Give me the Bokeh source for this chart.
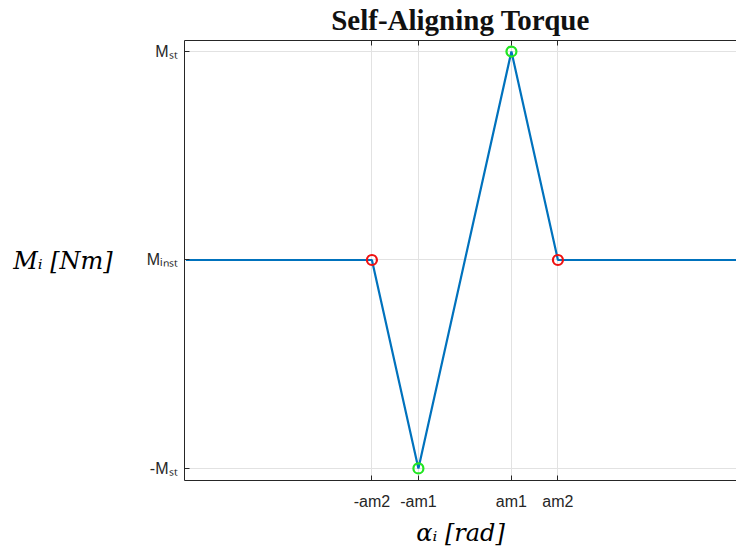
from bokeh.plotting import figure
from bokeh.models import Range1d, FixedTicker, LinearAxis
from bokeh.embed import file_html
from bokeh.resources import INLINE

# ---- data ----
alpha_pts = [-6.0, -2.0, -1.0, 1.0, 2.0, 6.0]      # alpha_i (am1 = 1, am2 = 2)
m_pts = [0.0, 0.0, -1.0, 1.0, 0.0, 0.0]            # M_i (M_st = 1, M_inst = 0)
red_x = [-2.0, 2.0]
red_y = [0.0, 0.0]
green_x = [-1.0, 1.0]
green_y = [-1.0, 1.0]
x_ticks = [-2, -1, 1, 2]
x_tick_labels = ["-am2", "-am1", "am1", "am2"]
y_ticks = [1, 0, -1]
y_tick_labels = ["M\u209b\u209c", "M\u1d62\u2099\u209b\u209c", "-M\u209b\u209c"]
title_text = "Self-Aligning Torque"
x_title = "\u03b1\u1d62 [rad]"
y_title = "M\u1d62 [Nm]"

# ---- layout ----
W, H = 736, 553
X0, X1 = -6.03, 5.84
Y0, Y1 = -1.058, 1.053
AX = "#262626"

p = figure(width=W, height=H, x_range=Range1d(X0, X1), y_range=Range1d(Y0, Y1),
           output_backend="svg", toolbar_location=None, title=None,
           min_border_left=184, min_border_right=0,
           min_border_top=40, min_border_bottom=73)
p.outline_line_color = None
p.background_fill_color = "white"
p.border_fill_color = "white"

xt = FixedTicker(ticks=x_ticks)
yt = FixedTicker(ticks=y_ticks)

xa = p.xaxis[0]
xa.ticker = xt
xa.major_label_overrides = {t: s for t, s in zip(x_ticks, x_tick_labels)}
xa.major_label_text_font = "Liberation Sans"
xa.major_label_text_font_size = "16px"
xa.major_label_text_color = AX
xa.major_label_standoff = 12
xa.major_tick_in = 5
xa.major_tick_out = 0
xa.minor_tick_line_color = None
xa.axis_line_color = AX
xa.major_tick_line_color = AX
xa.axis_label = x_title
xa.axis_label_text_font = "DejaVu Serif"
xa.axis_label_text_font_style = "italic"
xa.axis_label_text_font_size = "24px"
xa.axis_label_text_color = "black"
xa.axis_label_standoff = 6

ya = p.yaxis[0]
ya.ticker = yt
ya.major_label_overrides = {t: s for t, s in zip(y_ticks, y_tick_labels)}
ya.major_label_text_font = "Liberation Sans"
ya.major_label_text_font_size = "16px"
ya.major_label_text_color = AX
ya.major_label_standoff = 7
ya.major_tick_in = 5
ya.major_tick_out = 0
ya.minor_tick_line_color = None
ya.axis_line_color = AX
ya.major_tick_line_color = AX
ya.axis_label = y_title
ya.axis_label_orientation = "horizontal"
ya.axis_label_text_font = "DejaVu Serif"
ya.axis_label_text_font_style = "italic"
ya.axis_label_text_font_size = "24px"
ya.axis_label_text_color = "black"
ya.axis_label_standoff = 31

# top box edge with inward ticks; carries the chart title as its label
top = LinearAxis(ticker=FixedTicker(ticks=x_ticks))
top.major_label_overrides = {t: "" for t in x_ticks}
top.major_label_text_font_size = "1px"
top.major_label_standoff = 0
top.major_tick_in = 5
top.major_tick_out = 0
top.minor_tick_line_color = None
top.axis_line_color = AX
top.major_tick_line_color = AX
top.axis_label = title_text
top.axis_label_text_font = "Liberation Serif"
top.axis_label_text_font_style = "bold"
top.axis_label_text_font_size = "29px"
top.axis_label_text_color = "#111111"
top.axis_label_standoff = 5
p.add_layout(top, "above")

p.xgrid.ticker = xt
p.ygrid.ticker = yt
p.xgrid.grid_line_color = "#e2e2e2"
p.ygrid.grid_line_color = "#e2e2e2"

p.line(alpha_pts, m_pts, line_color="#0072BD", line_width=2.2)
p.scatter(red_x, red_y, marker="circle", size=10, fill_color=None,
          line_color="#ee1111", line_width=2.2)
p.scatter(green_x, green_y, marker="circle", size=10, fill_color=None,
          line_color="#22e622", line_width=2.2)

open("out.html", "w").write(file_html(p, INLINE))
